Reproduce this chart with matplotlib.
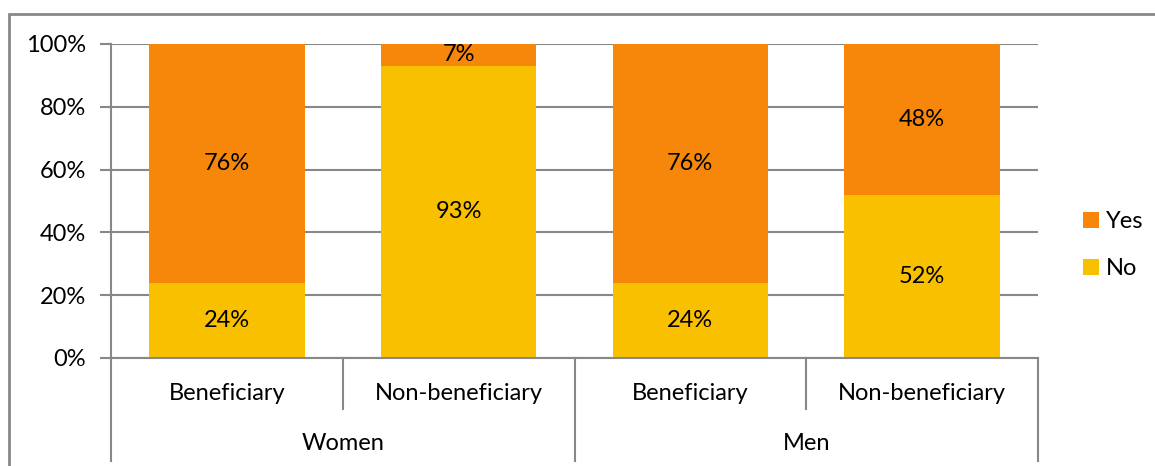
import matplotlib.pyplot as plt
from matplotlib.patches import Rectangle
import numpy as np

# dados do gráfico
subgrupos = ["Beneficiary", "Non-beneficiary", "Beneficiary", "Non-beneficiary"]
grupos = ["Women", "Men"]
no_vals = [24, 93, 24, 52]
yes_vals = [76, 7, 76, 48]
yticks = [0, 20, 40, 60, 80, 100]

COR_YES = "#F6870A"
COR_NO = "#F9C000"
CINZA = "#888888"
FS = 17


def main():
    plt.rcParams['font.family'] = ['Lato', 'DejaVu Sans']
    fig = plt.figure(figsize=(11.55, 4.66), dpi=100)
    W, H = 1155, 466
    x0, x1, ytop, ybot = 111, 1038, 44, 358
    ax = fig.add_axes([x0 / W, 1 - ybot / H, (x1 - x0) / W, (ybot - ytop) / H])

    x = np.arange(len(subgrupos))
    largura = 0.67
    ax.bar(x, no_vals, largura, color=COR_NO, label="No", zorder=2)
    ax.bar(x, yes_vals, largura, bottom=no_vals, color=COR_YES, label="Yes", zorder=2)

    # rótulos dos segmentos
    for i in range(len(x)):
        ax.text(x[i], no_vals[i] / 2, f"{no_vals[i]}%", ha="center", va="center", fontsize=FS, zorder=3)
        ax.text(x[i], no_vals[i] + yes_vals[i] / 2, f"{yes_vals[i]}%", ha="center", va="center",
                fontsize=FS, zorder=3)

    ax.set_xlim(-0.5, len(x) - 0.5)
    ax.set_ylim(0, 100)
    ax.set_yticks(yticks)
    ax.set_yticklabels([f"{v}%" for v in yticks], fontsize=FS)
    ax.tick_params(axis="y", length=8, width=1.5, color=CINZA, pad=10)
    ax.set_xticks([])
    ax.grid(axis="y", color=CINZA, linewidth=1.5, zorder=1)
    for s in ["top", "right"]:
        ax.spines[s].set_visible(False)
    for s in ["left", "bottom"]:
        ax.spines[s].set_color(CINZA)
        ax.spines[s].set_linewidth(1.5)

    # eixo de categorias em dois níveis
    altura = ybot - ytop
    y_sub = -(409 - ybot) / altura
    y_grp = -(461 - ybot) / altura
    trans = ax.get_xaxis_transform()
    for i, sep in enumerate(np.arange(-0.5, len(x), 1.0)):
        fundo = y_grp if i % 2 == 0 else y_sub
        ax.plot([sep, sep], [0, fundo], color=CINZA, linewidth=1.5, transform=trans, clip_on=False)
    for i, nome in enumerate(subgrupos):
        ax.text(x[i], -(393 - ybot) / altura, nome, ha="center", va="center", fontsize=FS, transform=trans)
    for j, nome in enumerate(grupos):
        ax.text(2 * j + 0.5, -(443 - ybot) / altura, nome, ha="center", va="center", fontsize=FS,
                transform=trans)

    # legenda
    h, l = ax.get_legend_handles_labels()
    fig.legend(h[::-1], l[::-1], loc="center left", bbox_to_anchor=(1062 / W, 1 - 245 / H),
               frameon=False, fontsize=FS, handlelength=0.65, handleheight=0.65,
               handletextpad=0.3, labelspacing=1.1)

    # moldura da figura
    fig.patches.append(Rectangle((9 / W, -0.2), 2, 1 - 14 / H + 0.2, transform=fig.transFigure,
                                 fill=False, edgecolor=CINZA, linewidth=2))

    plt.savefig("out.png", dpi=100)


if __name__ == "__main__":
    main()
